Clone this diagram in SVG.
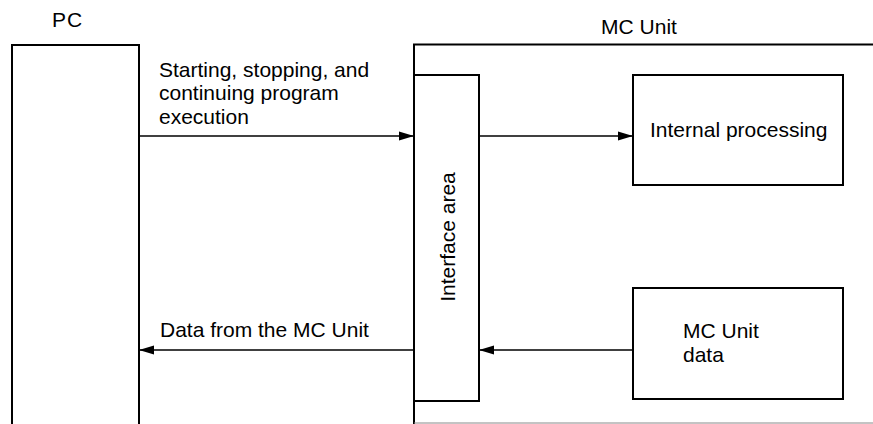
<svg xmlns="http://www.w3.org/2000/svg" width="873" height="424" viewBox="0 0 873 424">
<defs>
<style>
.box{fill:none;stroke:#000;stroke-width:2}
.ln{fill:none;stroke:#000;stroke-width:1.6}
.t{font-family:"Liberation Sans",Arial,sans-serif;font-size:21px;fill:#000}
</style>
<marker id="ah" viewBox="0 0 15 10" refX="15" refY="5" markerWidth="15" markerHeight="10" markerUnits="userSpaceOnUse" orient="auto">
<path d="M0,0.5 L15,5 L0,9.5 Z" fill="#000"/>
</marker>
</defs>
<rect width="873" height="424" fill="#fff"/>
<g id="pc">
<path class="box" d="M12,424 V45 H139 V424"/>
<text class="t" x="52" y="27" style="letter-spacing:1px">PC</text>
</g>
<g id="mc-unit">
<path class="box" d="M414,424 V44.5 H873"/>
<line x1="414" y1="423" x2="873" y2="423" stroke="#888" stroke-width="1"/>
<text class="t" x="639" y="34" text-anchor="middle">MC Unit</text>
</g>
<g id="interface-area">
<rect class="box" x="414" y="75" width="65" height="326"/>
<text class="t" transform="translate(455,237) rotate(-90)" text-anchor="middle">Interface area</text>
</g>
<g id="internal-processing">
<rect class="box" x="633" y="75" width="210" height="110"/>
<text class="t" x="650" y="137">Internal processing</text>
</g>
<g id="mc-unit-data">
<rect class="box" x="633" y="288" width="210" height="111"/>
<text class="t" x="683" y="338">MC Unit</text>
<text class="t" x="683" y="362">data</text>
</g>
<g id="connectors">
<line class="ln" x1="139" y1="136" x2="414" y2="136" marker-end="url(#ah)"/>
<line class="ln" x1="479" y1="136" x2="633" y2="136" marker-end="url(#ah)"/>
<line class="ln" x1="633" y1="350" x2="479" y2="350" marker-end="url(#ah)"/>
<line class="ln" x1="414" y1="350" x2="139" y2="350" marker-end="url(#ah)"/>
<text class="t" x="159" y="77">Starting, stopping, and</text>
<text class="t" x="159" y="100">continuing program</text>
<text class="t" x="159" y="124">execution</text>
<text class="t" x="160" y="337">Data from the MC Unit</text>
</g>
</svg>
